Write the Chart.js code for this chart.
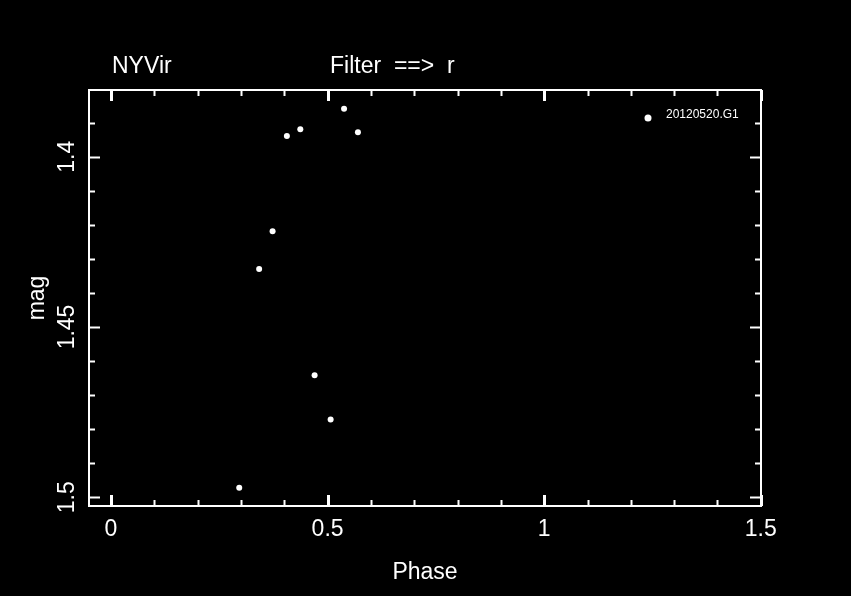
<!DOCTYPE html>
<html lang="en">
<head>
<meta charset="UTF-8">
<title>NYVir - Filter r</title>
<script src="https://cdn.jsdelivr.net/npm/chart.js"></script>
<style>
    html, body { margin: 0; padding: 0; background: #000; }
    #wrap { width: 851px; height: 596px; }
</style>
</head>
<body>
<div id="wrap"><canvas id="phaseChart" width="851" height="596"></canvas></div>
<script>
// data
const phase = [0.296, 0.342, 0.373, 0.406, 0.437, 0.470, 0.507, 0.538, 0.570];
const mag = [1.4972, 1.4330, 1.4219, 1.3939, 1.3919, 1.4642, 1.4772, 1.3859, 1.3928];
const seriesName = "20120520.G1";

const xTicks = [0, 0.5, 1, 1.5];
const yTicks = [1.4, 1.45, 1.5];
const xMinorStep = 0.1;
const yMinorStep = 0.01;
const xRange = [-0.0508, 1.5005];
const yRange = [1.38038, 1.50259];

const FONT = "Liberation Sans";
const WHITE = "#ffffff";

const framePlugin = {
    id: "frame",
    beforeDraw(chart) {
        const ctx = chart.ctx;
        ctx.save();
        ctx.fillStyle = "#000";
        ctx.fillRect(0, 0, chart.width, chart.height);
        ctx.restore();
    },
    afterDraw(chart) {
        const ctx = chart.ctx;
        const a = chart.chartArea;
        const x = chart.scales.x, y = chart.scales.y;
        ctx.save();
        ctx.strokeStyle = WHITE;
        ctx.lineWidth = 2;
        ctx.strokeRect(a.left, a.top, a.right - a.left, a.bottom - a.top);

        // inward ticks on all four sides
        const nx = Math.round((xTicks[xTicks.length - 1] - xTicks[0]) / xMinorStep);
        for (let i = 0; i <= nx; i++) {
            const v = xTicks[0] + i * xMinorStep;
            const major = xTicks.some(t => Math.abs(t - v) < 1e-9);
            const px = Math.round(x.getPixelForValue(v)) + 0.5;
            const len = major ? 11 : 6;
            ctx.lineWidth = major ? 3 : 2;
            ctx.beginPath();
            ctx.moveTo(px, a.bottom); ctx.lineTo(px, a.bottom - len);
            ctx.moveTo(px, a.top); ctx.lineTo(px, a.top + len);
            ctx.stroke();
        }
        const ny = Math.round((yRange[1] - 1.38) / yMinorStep) + 1;
        for (let i = 0; i <= ny; i++) {
            const v = Math.round((1.38 + i * yMinorStep) * 1000) / 1000;
            if (v < yRange[0] || v > yRange[1]) continue;
            const major = yTicks.some(t => Math.abs(t - v) < 1e-9);
            const py = Math.round(y.getPixelForValue(v)) + 0.5;
            const len = major ? 11 : 6;
            ctx.lineWidth = 2;
            ctx.beginPath();
            ctx.moveTo(a.left, py); ctx.lineTo(a.left + len, py);
            ctx.moveTo(a.right, py); ctx.lineTo(a.right - len, py);
            ctx.stroke();
        }

        // header texts
        ctx.fillStyle = WHITE;
        ctx.font = "23px '" + FONT + "'";
        ctx.textBaseline = "alphabetic";
        ctx.textAlign = "left";
        ctx.fillText("NYVir", 112, 73);
        ctx.fillText("Filter  ==>  r", 330, 73);

        // legend
        const ds = chart.data.datasets[0];
        ctx.beginPath();
        ctx.arc(a.right - 113, a.top + 28, 3.5, 0, Math.PI * 2);
        ctx.fill();
        ctx.font = "12px '" + FONT + "'";
        ctx.textBaseline = "middle";
        ctx.fillText(ds.label, a.right - 95, a.top + 25);
        ctx.restore();
    }
};

new Chart(document.getElementById("phaseChart"), {
    type: "scatter",
    data: {
        datasets: [{
            label: seriesName,
            data: phase.map((p, i) => ({ x: p, y: mag[i] })),
            pointRadius: 3,
            pointBorderWidth: 0,
            pointBackgroundColor: WHITE
        }]
    },
    options: {
        responsive: false,
        animation: false,
        layout: { padding: { top: 90, right: 90, left: 0, bottom: 0 } },
        plugins: { legend: { display: false }, tooltip: { enabled: false } },
        scales: {
            x: {
                type: "linear",
                min: xRange[0],
                max: xRange[1],
                afterBuildTicks: s => { s.ticks = xTicks.map(v => ({ value: v })); },
                afterFit: s => { s.height = 90; },
                grid: { display: false },
                border: { display: false },
                ticks: {
                    color: WHITE,
                    font: { family: FONT, size: 23 },
                    padding: 2,
                    autoSkip: false,
                    maxRotation: 0,
                    callback: v => String(v)
                },
                title: {
                    display: true,
                    text: "Phase",
                    color: WHITE,
                    font: { family: FONT, size: 23 },
                    padding: { top: 0, bottom: 10 }
                }
            },
            y: {
                type: "linear",
                reverse: true,
                min: yRange[0],
                max: yRange[1],
                afterBuildTicks: s => { s.ticks = yTicks.map(v => ({ value: v })); },
                afterFit: s => { s.width = 89; },
                grid: { display: false },
                border: { display: false },
                ticks: {
                    color: WHITE,
                    font: { family: FONT, size: 23 },
                    minRotation: 90,
                    maxRotation: 90,
                    crossAlign: "center",
                    padding: -9,
                    autoSkip: false,
                    callback: v => String(v)
                },
                title: {
                    display: true,
                    text: "mag",
                    color: WHITE,
                    font: { family: FONT, size: 23 },
                    padding: { top: 24, bottom: 0 }
                }
            }
        }
    },
    plugins: [framePlugin]
});
</script>
</body>
</html>
